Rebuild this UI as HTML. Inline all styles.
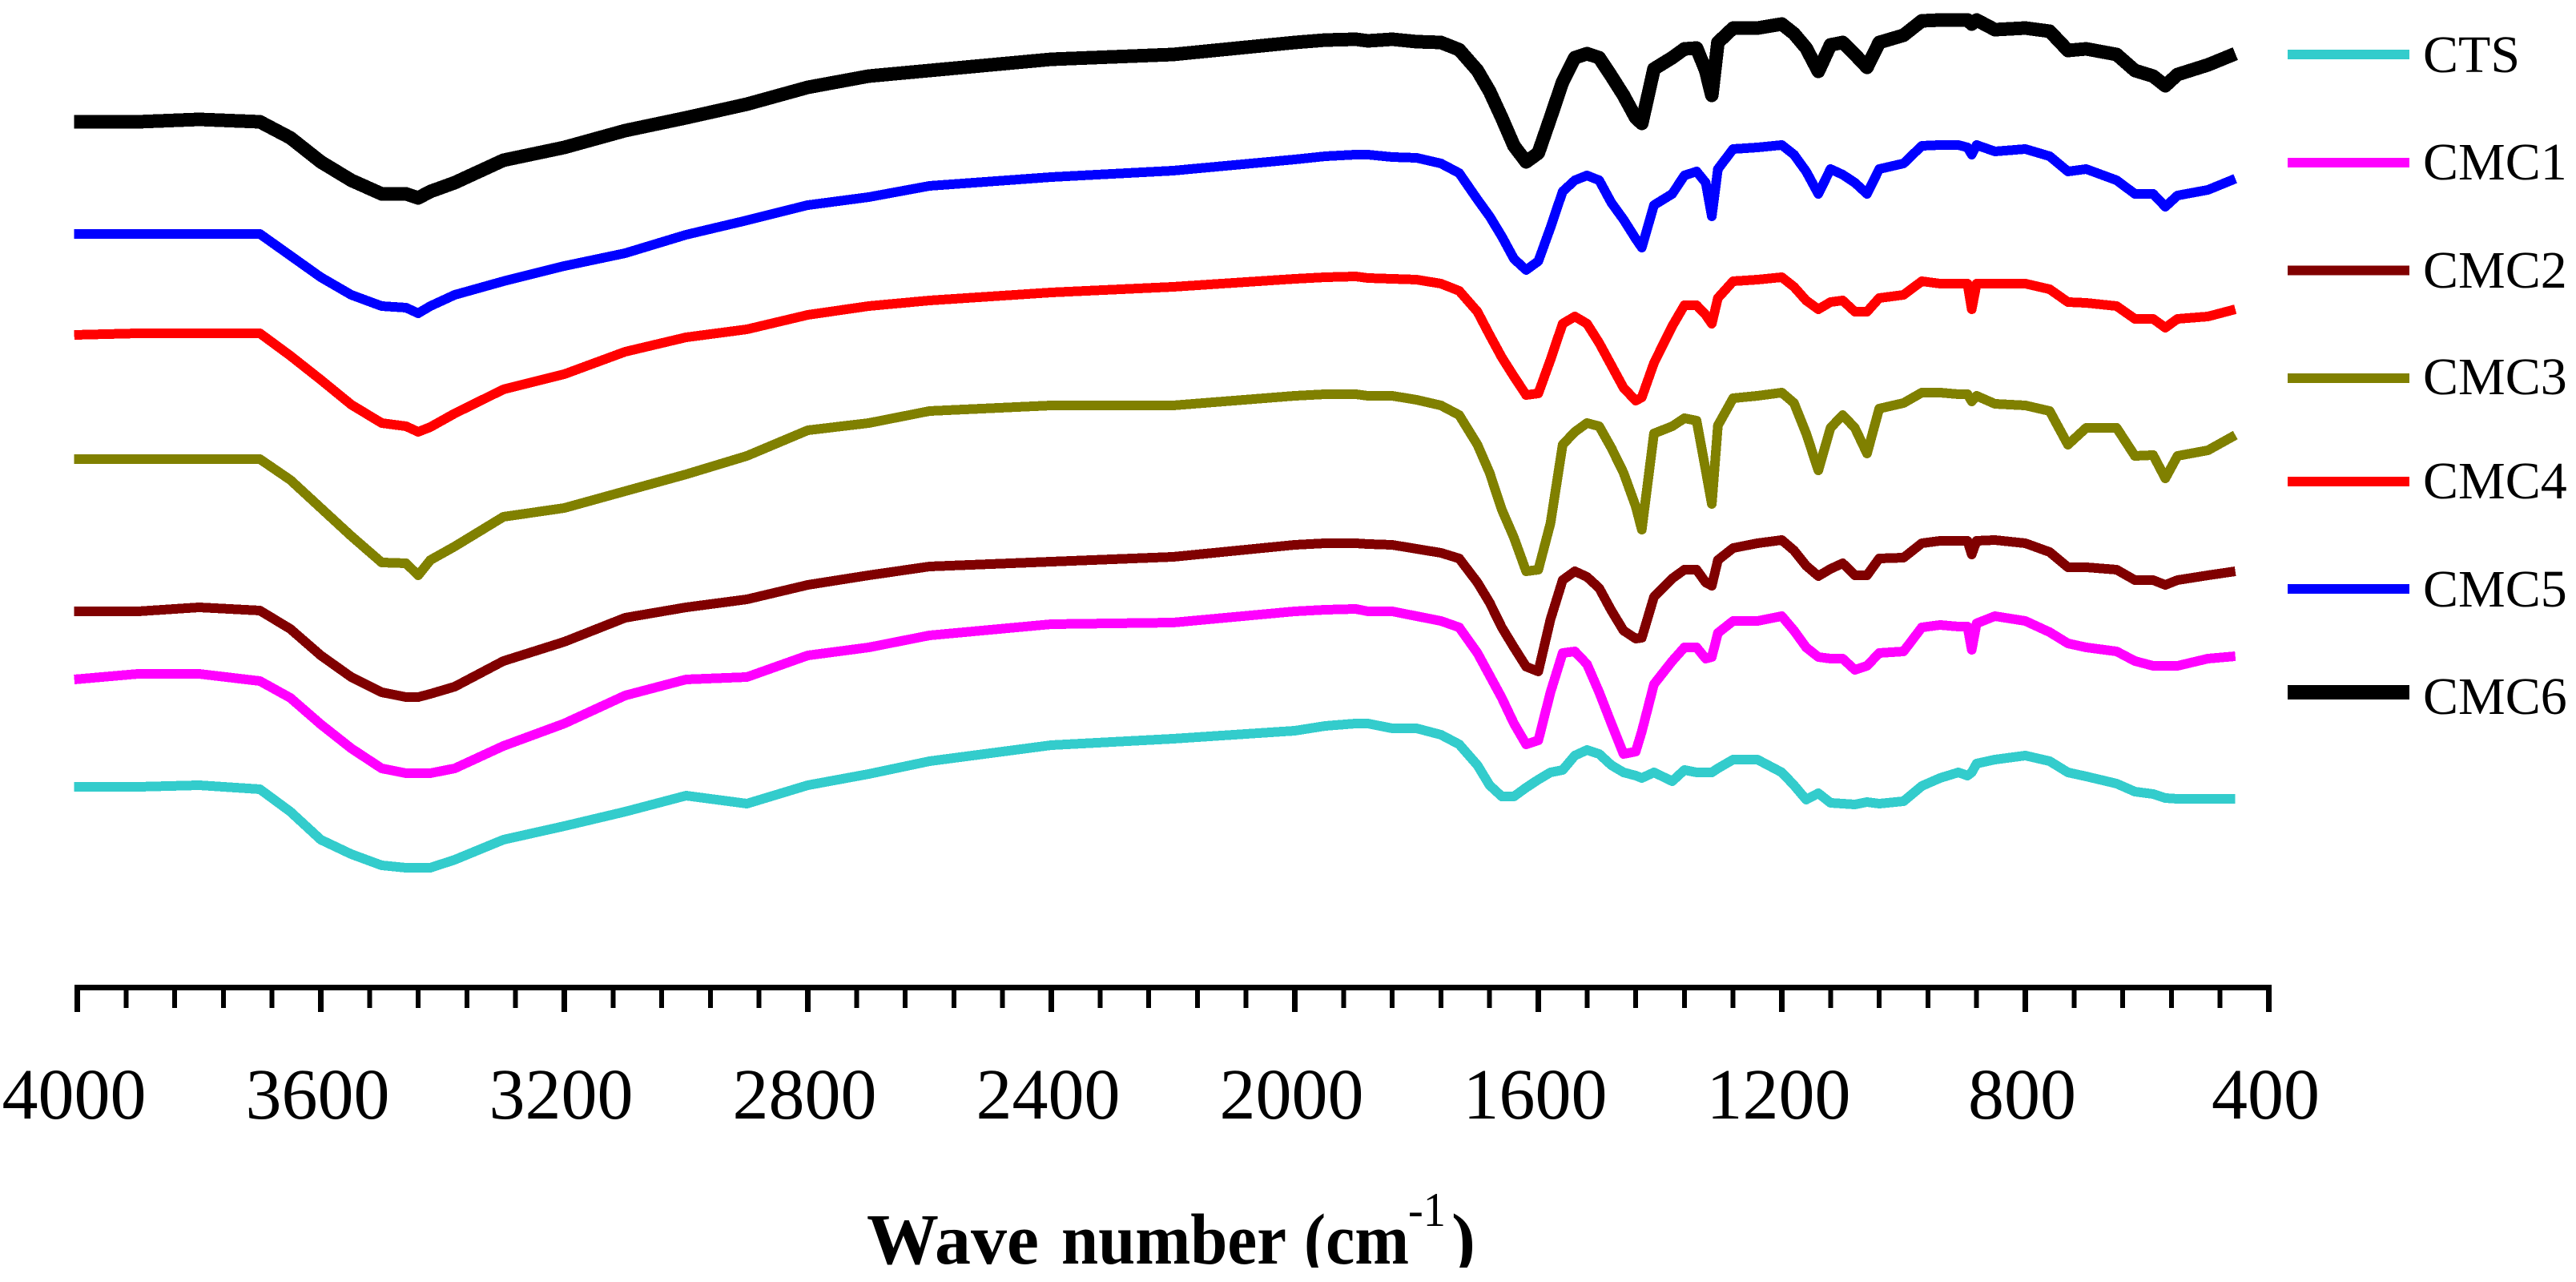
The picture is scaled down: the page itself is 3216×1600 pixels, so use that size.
<!DOCTYPE html>
<html lang="en">
<head>
<meta charset="utf-8">
<title>FTIR spectra of CTS and CMC1–CMC6</title>
<style>
  html, body { margin: 0; padding: 0; background: #fff; width: 3216px; height: 1600px; overflow: hidden; }
  svg { display: block; }
  text { font-family: "Liberation Serif", serif; fill: #000; }
</style>
</head>
<body>
<svg id="chart" xmlns="http://www.w3.org/2000/svg" width="3216" height="1600" viewBox="0 0 3216 1600">
  <defs>
    <clipPath id="title-clip"><rect x="1000" y="1470" width="900" height="112"></rect></clipPath>
  </defs>
  <rect x="0" y="0" width="3216" height="1600" fill="#fff"></rect>
  <g id="series-layer"></g>
  <g id="axis-layer"></g>
  <g id="legend-layer"></g>
  <g clip-path="url(#title-clip)" font-weight="bold" font-size="90">
    <text x="1082" y="1577">Wave</text>
    <text x="1325" y="1577" textLength="281" lengthAdjust="spacingAndGlyphs">number</text>
    <text x="1628" y="1577" textLength="131" lengthAdjust="spacingAndGlyphs">(cm</text>
    <text x="1758" y="1530" font-weight="normal" font-size="60" textLength="47" lengthAdjust="spacingAndGlyphs">-1</text>
    <text x="1812" y="1577">)</text>
  </g>
</svg>
<script>
// Shared wavenumber grid (cm-1)
const wavenumbers = [4005,3900,3800,3700,3650,3600,3550,3500,3460,3440,3420,3380,3300,3200,3100,3000,2900,2800,2700,2600,2400,2200,2000,1950,1900,
1880,1840,1800,1760,1730,1700,1680,1660,1640,1620,1600,1580,1560,1540,1520,1500,1480,1460,1440,1430,1410,1380,1360,1340,1325,1315,1305,1280,1240,1200,
1180,1160,1140,1120,1100,1080,1060,1040,1000,970,940,910,895,888,880,850,800,760,730,700,650,620,590,570,550,500,455];

// Stacked relative transmittance (arbitrary units)
const valuesCTS = [247,247,249,244,216,181,163,149,146,146,146,156,181,198,216,236,226,249,263,279,299,307,317,323,326,
326,320,320,312,300,274,249,235,235,246,256,265,268,286,293,288,274,265,261,258,265,254,268,265,265,265,270,281,281,265,
249,231,239,227,226,225,228,226,229,248,258,265,261,265,276,281,286,279,265,260,251,241,238,233,232,232,232];
const valuesCMC1 = [381,388,388,379,358,325,295,270,264,264,264,270,298,326,361,381,384,411,421,436,450,452,466,468,469,
466,466,460,454,446,414,386,358,326,300,305,365,414,416,400,365,326,288,291,316,375,404,421,421,407,409,439,454,454,460,
442,421,409,407,407,393,398,414,416,446,449,447,447,418,451,460,454,440,426,421,416,404,398,398,398,407,410];
const valuesCMC2 = [466,466,471,467,444,411,384,365,359,359,363,372,404,428,458,471,481,499,511,522,528,534,549,551,551,
550,549,544,539,532,502,477,446,421,397,391,456,505,516,509,495,467,442,432,433,484,507,518,518,502,498,530,545,551,555,
542,523,510,519,526,511,511,532,533,551,554,554,554,537,554,555,551,540,521,521,518,505,505,499,505,511,516];
const valuesCMC3 = [656,656,656,656,630,595,560,527,526,511,530,547,584,595,616,637,660,692,701,716,723,723,735,737,737,
735,735,730,723,711,674,639,593,558,516,518,576,674,690,701,697,670,639,597,568,688,697,707,704,642,600,698,732,735,739,
726,688,642,695,711,695,663,719,726,739,739,737,737,728,735,725,723,716,674,695,695,660,661,632,660,667,686];
const valuesCMC4 = [811,813,813,813,785,755,724,701,697,690,696,713,743,762,790,808,818,836,847,854,864,871,881,883,884,
882,881,880,875,866,840,811,783,759,736,738,780,825,834,825,801,773,745,729,733,776,822,848,848,836,825,857,878,880,883,
871,854,843,852,854,840,840,857,861,878,875,875,875,843,875,875,875,868,852,851,847,831,831,820,831,834,843];
const valuesCMC5 = [937,937,937,937,910,883,861,847,845,838,847,861,878,897,913,936,954,973,983,997,1008,1016,1030,1034,1036,
1036,1033,1032,1025,1013,980,959,934,906,892,903,945,990,1004,1010,1004,976,955,931,920,973,987,1010,1015,1001,959,1018,1043,1045,1048,
1036,1015,987,1018,1011,1001,987,1018,1025,1047,1048,1048,1045,1036,1048,1040,1043,1034,1015,1018,1004,987,987,971,985,992,1006];
const valuesCMC6 = [1077,1077,1080,1077,1057,1027,1004,987,987,982,990,1001,1029,1045,1066,1082,1099,1120,1134,1141,1155,1161,1176,1179,1180,
1178,1180,1177,1176,1167,1141,1115,1082,1047,1027,1038,1082,1127,1157,1162,1157,1134,1110,1082,1075,1143,1157,1168,1169,1141,1110,1176,1194,1194,1199,
1187,1169,1140,1173,1176,1161,1145,1176,1185,1203,1204,1204,1204,1199,1204,1192,1194,1190,1166,1168,1161,1141,1134,1122,1136,1148,1162];

const seriesNames = ["CTS","CMC1","CMC2","CMC3","CMC4","CMC5","CMC6"];
const seriesValues = [valuesCTS,valuesCMC1,valuesCMC2,valuesCMC3,valuesCMC4,valuesCMC5,valuesCMC6];
const seriesColors = ["#33CCCC","#FF00FF","#800000","#808000","#FF0000","#0000FF","#000000"];

const tickLabels = [4000,3600,3200,2800,2400,2000,1600,1200,800,400];
const minorStep = 80;

// Axis functions
const NS = "http://www.w3.org/2000/svg";
const axisY = 1229;
function xScale(w) { return 96.5 + (4000 - w) * (2832.5 - 96.5) / 3600; }
function yScale(t) { return axisY - t; }

function make(tag, attrs, parent) {
  const el = document.createElementNS(NS, tag);
  for (const k in attrs) el.setAttribute(k, attrs[k]);
  parent.appendChild(el);
  return el;
}

// Series
const seriesLayer = document.getElementById("series-layer");
seriesNames.forEach(function (name, i) {
  const pts = wavenumbers.map(function (w, j) {
    return xScale(w).toFixed(1) + "," + yScale(seriesValues[i][j]).toFixed(1);
  }).join(" ");
  const line = make("polyline", {
    points: pts, fill: "none", stroke: seriesColors[i],
    "stroke-width": name === "CMC6" ? 17 : 12,
    "stroke-linejoin": "round", "shape-rendering": "crispEdges"
  }, seriesLayer);
  
  
});

// Axis
const axisLayer = document.getElementById("axis-layer");
const axisLine = make("rect", { x: 93, y: axisY, width: 2737, height: 7, fill: "#000" }, axisLayer);



for (let w = 4000; w >= 400; w -= minorStep) {
  const major = tickLabels.indexOf(w) !== -1;
  const tick = make("rect", {
    x: (xScale(w) - (major ? 3.5 : 3)).toFixed(1),
    y: axisY, width: major ? 7 : 6, height: major ? 34 : 29, fill: "#000",
    "shape-rendering": "crispEdges"
  }, axisLayer);
  
  
}

tickLabels.forEach(function (w) {
  const label = make("text", {
    x: (xScale(w) - 4).toFixed(1), y: 1396, "font-size": 90, "text-anchor": "middle"
  }, axisLayer);
  label.textContent = String(w);
  
  
});

// Legend
const legendLayer = document.getElementById("legend-layer");
const legendLineY = [68, 203, 337.5, 472, 601, 735, 864];
const legendTextY = [90, 224, 359, 492, 622, 757, 891];
seriesNames.forEach(function (name, i) {
  const h = name === "CMC6" ? 18 : 12;
  const swatch = make("rect", {
    x: 2856, y: legendLineY[i] - h / 2, width: 152, height: h, fill: seriesColors[i]
  }, legendLayer);
  
  
  const label = make("text", { x: 3025, y: legendTextY[i], "font-size": 66 }, legendLayer);
  label.textContent = name;
  
  
});
</script>
</body>
</html>
